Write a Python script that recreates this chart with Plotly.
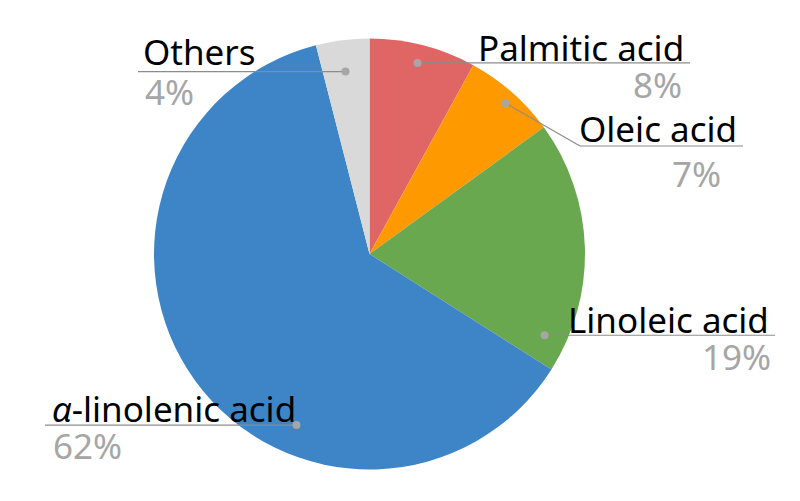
import math
import plotly.graph_objects as go

# ---- data ----
labels = ["Palmitic acid", "Oleic acid", "Linoleic acid", "\u03b1-linolenic acid", "Others"]
values = [8, 7, 19, 62, 4]
colors = ["#E06666", "#FF9900", "#6AA84F", "#3D85C6", "#D9D9D9"]

W, H = 800, 501
CX, CY, R = 369.5, 254, 215.5  # pie centre / radius in pixels

# label layout: dot (angle deg clockwise from top, radius px), elbow, line end, text anchors
label_layout = {
    "Palmitic acid": dict(dot=(14.1, 197), elbow=None, end=690, name=(686, 47, "right"), pct=(684, 84, "right")),
    "Oleic acid": dict(dot=(42.0, 203), elbow=(580, 146), end=743, name=(739, 129, "right"), pct=(723, 173, "right")),
    "Linoleic acid": dict(dot=(114.9, 193), elbow=None, end=775, name=(771, 319, "right"), pct=(773, 356, "right")),
    "\u03b1-linolenic acid": dict(dot=(203.1, 186), elbow=None, end=45, name=(50, 408, "left"), pct=(51, 445, "left")),
    "Others": dict(dot=(352.5, 184), elbow=None, end=138, name=(141, 52, "left"), pct=(143, 92, "left")),
}

def px(x):
    return x / W

def py(y):
    return 1 - y / H

def fmt_label(s):
    return s.replace("\u03b1", "<i>\u03b1</i>")

fig = go.Figure()
fig.add_trace(go.Pie(
    labels=labels, values=values, sort=False, direction="clockwise", rotation=0,
    marker=dict(colors=colors, line=dict(width=0)),
    textinfo="none", hoverinfo="label+percent", showlegend=False,
    domain=dict(x=[px(CX - R), px(CX + R)], y=[py(CY + R), py(CY - R)]),
))

total = sum(values)
shapes = []
annotations = []
for lab, val in zip(labels, values):
    L = label_layout[lab]
    ang, rr = L["dot"]
    dx = CX + rr * math.sin(math.radians(ang))
    dy = CY - rr * math.cos(math.radians(ang))
    pts = [(dx, dy)]
    if L["elbow"]:
        pts.append(L["elbow"])
    pts.append((L["end"], pts[-1][1]))
    for (x0, y0), (x1, y1) in zip(pts[:-1], pts[1:]):
        shapes.append(dict(type="line", xref="paper", yref="paper",
                           x0=px(x0), y0=py(y0), x1=px(x1), y1=py(y1),
                           line=dict(color="#8C8C8C", width=1.2)))
    shapes.append(dict(type="circle", xref="paper", yref="paper",
                       x0=px(dx - 4), x1=px(dx + 4), y0=py(dy + 4), y1=py(dy - 4),
                       fillcolor="#A6A6A6", line=dict(width=0)))
    nx, ny, na = L["name"]
    annotations.append(dict(text=fmt_label(lab), x=px(nx), y=py(ny), xref="paper", yref="paper",
                            xanchor=na, yanchor="middle", showarrow=False,
                            font=dict(size=35, color="#000000", family="Noto Sans")))
    tx, ty, ta = L["pct"]
    annotations.append(dict(text=f"{round(100 * val / total)}%", x=px(tx), y=py(ty),
                            xref="paper", yref="paper", xanchor=ta, yanchor="middle",
                            showarrow=False,
                            font=dict(size=35, color="#A6A6A6", family="Noto Sans")))

fig.update_layout(
    width=W, height=H, margin=dict(l=0, r=0, t=0, b=0),
    paper_bgcolor="white", plot_bgcolor="white",
    shapes=shapes, annotations=annotations,
)
fig.write_html("out.html")
